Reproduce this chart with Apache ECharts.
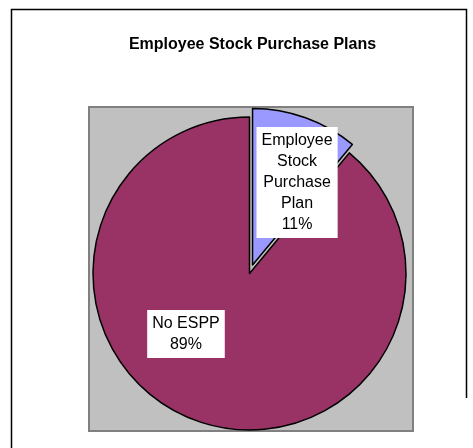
<!DOCTYPE html>
<html>
<head>
<meta charset="utf-8">
<script src="https://cdn.jsdelivr.net/npm/echarts@6/dist/echarts.min.js"></script>
<style>
  html, body { margin: 0; padding: 0; background: #fff; }
  #chart { width: 473px; height: 448px; }
</style>
</head>
<body>
<div id="chart"></div>
<script>
// Share of companies offering an employee stock purchase plan
var chartTitle = 'Employee Stock Purchase Plans';
var categories = ['Employee Stock Purchase Plan', 'No ESPP'];
var labelLines = ['Employee\nStock\nPurchase\nPlan', 'No ESPP'];
var values = [11, 89];
var colors = ['#9999FF', '#993366'];
var exploded = [true, false];

var chart = echarts.init(document.getElementById('chart'), null, { renderer: 'canvas' });

var FONT = '"Liberation Sans", Arial, sans-serif';

var pieData = categories.map(function (name, i) {
  return {
    name: name,
    value: values[i],
    selected: exploded[i],
    itemStyle: { color: colors[i] }
  };
});

// label nudges from the default inside position
var labelShift = [
  { dx: 17, dy: -6 },
  { dx: -36, dy: -16 }
];

chart.setOption({
  animation: false,
  backgroundColor: '#ffffff',
  title: {
    text: chartTitle,
    left: 247.5,
    top: 32,
    textAlign: 'center',
    textStyle: { fontFamily: FONT, fontSize: 16, fontWeight: 'bold', color: '#000' }
  },
  graphic: [
    {
      type: 'polyline',
      silent: true,
      z: 0,
      shape: { points: [[11.5, 448], [11.5, 9.5], [466.5, 9.5], [466.5, 398]] },
      style: { stroke: '#000', lineWidth: 1.5, fill: null }
    },
    {
      type: 'rect',
      silent: true,
      z: 0,
      shape: { x: 89, y: 107, width: 324, height: 324 },
      style: { fill: '#C0C0C0', stroke: '#808080', lineWidth: 2 }
    }
  ],
  series: [{
    type: 'pie',
    center: [249.5, 273.5],
    radius: [0, 156.5],
    startAngle: 90,
    clockwise: true,
    selectedMode: 'single',
    selectedOffset: 9,
    avoidLabelOverlap: false,
    z: 2,
    itemStyle: { borderColor: '#000', borderWidth: 1.5 },
    emphasis: { disabled: true },
    label: {
      show: true,
      position: 'inside',
      formatter: function (p) {
        return labelLines[p.dataIndex] + '\n' + Math.round(p.percent) + '%';
      },
      fontFamily: FONT,
      fontSize: 16,
      lineHeight: 21,
      color: '#000',
      backgroundColor: '#ffffff',
      padding: [3, 5],
      align: 'center'
    },
    labelLine: { show: false },
    labelLayout: function (params) {
      return labelShift[params.dataIndex];
    },
    data: pieData
  }]
});
</script>
</body>
</html>
